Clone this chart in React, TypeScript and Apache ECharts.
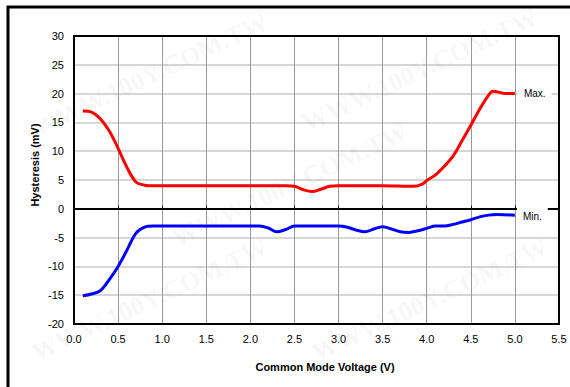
import React, { useEffect, useRef } from "react";
import * as echarts from "echarts";

const xTicks = [0, 0.5, 1, 1.5, 2, 2.5, 3, 3.5, 4, 4.5, 5, 5.5];
const yTicks = [-20, -15, -10, -5, 0, 5, 10, 15, 20, 25, 30];

const maxSeries: [number, number][] = [
  [0.1, 17], [0.2, 16.8], [0.3, 15.6], [0.4, 13.5], [0.5, 10.5], [0.6, 7.2], [0.7, 4.7],
  [0.8, 4.1], [0.9, 4.0], [1.0, 4.0], [1.5, 4.0], [2.0, 4.0], [2.4, 4.0], [2.5, 3.9],
  [2.6, 3.3], [2.7, 3.0], [2.8, 3.4], [2.9, 3.9], [3.0, 4.0], [3.5, 4.0], [3.85, 3.9],
  [3.95, 4.3], [4.0, 4.9], [4.1, 5.9], [4.2, 7.4], [4.3, 9.2], [4.4, 11.8], [4.5, 14.5],
  [4.6, 17.3], [4.7, 19.7], [4.75, 20.4], [4.8, 20.3], [4.9, 20.0], [5.0, 20.0],
];

const minSeries: [number, number][] = [
  [0.1, -15.1], [0.2, -14.8], [0.3, -14.2], [0.4, -12.3], [0.5, -10.0], [0.6, -7.2],
  [0.7, -4.3], [0.8, -3.2], [0.9, -3.0], [1.0, -3.0], [1.5, -3.0], [2.0, -3.0], [2.1, -3.0],
  [2.2, -3.3], [2.3, -4.0], [2.4, -3.6], [2.5, -3.0], [2.7, -3.0], [3.0, -3.0], [3.1, -3.2],
  [3.2, -3.7], [3.3, -4.0], [3.4, -3.5], [3.5, -3.1], [3.6, -3.5], [3.7, -4.0], [3.8, -4.1],
  [3.9, -3.8], [4.0, -3.4], [4.1, -3.0], [4.2, -3.0], [4.3, -2.7], [4.4, -2.3], [4.5, -1.9],
  [4.6, -1.4], [4.7, -1.1], [4.8, -1.0], [5.0, -1.1],
];

const seriesNames = ["Max.", "Min."];
const xName = "Common Mode Voltage (V)";
const yName = "Hysteresis (mV)";
const watermark = "WWW.100Y.COM.TW";

export default function App() {
  const ref = useRef<HTMLDivElement>(null);
  useEffect(() => {
    if (!ref.current) return;
    const chart = echarts.init(ref.current, undefined, { renderer: "svg" });
    const font = "Liberation Sans, Arial, sans-serif";
    const marks: any[] = [];
    const wmPos = [
      [150, 75], [420, 70], [290, 185], [150, 300], [430, 300],
    ];
    wmPos.forEach(([x, y]) => {
      marks.push({
        type: "text",
        x,
        y,
        rotation: (25 * Math.PI) / 180,
        silent: true,
        z: 100,
        style: {
          text: watermark,
          font: "bold 26px 'Liberation Serif', serif",
          fill: "rgba(0,0,0,0.045)",
          textAlign: "center",
          textVerticalAlign: "middle",
        },
      });
    });
    chart.setOption({
      animation: false,
      backgroundColor: "#fff",
      grid: {
        left: 74,
        top: 36,
        width: 485,
        height: 288,
        show: true,
        borderColor: "#000",
        borderWidth: 2,
        z: 3,
      },
      xAxis: [
        {
          type: "value",
          min: 0,
          max: 5.5,
          interval: 0.5,
          axisLine: { onZero: false, lineStyle: { color: "#000", width: 2 } },
          axisTick: { show: false },
          splitLine: { show: true, lineStyle: { color: "#999", width: 1 } },
          axisLabel: {
            color: "#000",
            fontFamily: font,
            fontSize: 11,
            margin: 9,
            formatter: (v: number) => v.toFixed(1),
          },
        },
        {
          type: "value",
          min: 0,
          max: 5.5,
          interval: 0.5,
          position: "bottom",
          axisLine: { onZero: true, lineStyle: { color: "#000", width: 2 } },
          axisTick: { show: true, inside: true, length: 3, lineStyle: { color: "#000", width: 1 } },
          splitLine: { show: false },
          axisLabel: { show: false },
        },
      ],
      yAxis: {
        type: "value",
        min: -20,
        max: 30,
        interval: 5,
        axisLine: { show: true, lineStyle: { color: "#000", width: 2 } },
        axisTick: { show: false },
        splitLine: { show: true, lineStyle: { color: "#c8c8c8", width: 1.5 } },
        axisLabel: { color: "#000", fontFamily: font, fontSize: 11, margin: 10 },
      },
      series: [
        {
          name: seriesNames[0],
          type: "line",
          data: maxSeries,
          smooth: 0.35,
          showSymbol: false,
          z: 5,
          lineStyle: { color: "#ff0000", width: 3 },
          endLabel: {
            show: true,
            formatter: seriesNames[0],
            color: "#000",
            fontFamily: font,
            fontSize: 10,
            backgroundColor: "#fff",
            padding: [3, 6, 3, 6],
            distance: 3,
          },
        },
        {
          name: seriesNames[1],
          type: "line",
          data: minSeries,
          smooth: 0.35,
          showSymbol: false,
          z: 5,
          lineStyle: { color: "#0000ff", width: 3 },
          endLabel: {
            show: true,
            formatter: seriesNames[1],
            color: "#000",
            fontFamily: font,
            fontSize: 10,
            backgroundColor: "#fff",
            padding: [7, 6, 4, 6],
            distance: 2,
            offset: [0, 1],
          },
        },
      ],
      graphic: [
        {
          type: "rect",
          shape: { x: 8, y: 7, width: 600, height: 420 },
          silent: true,
          z: 50,
          style: { fill: "none", stroke: "#000", lineWidth: 3 },
        },
        {
          type: "text",
          x: 35,
          y: 165,
          rotation: Math.PI / 2,
          z: 50,
          style: {
            text: yName,
            font: `bold 11px ${font}`,
            fill: "#000",
            textAlign: "center",
            textVerticalAlign: "middle",
          },
        },
        {
          type: "text",
          x: 325,
          y: 367,
          z: 50,
          style: {
            text: xName,
            font: `bold 11px ${font}`,
            fill: "#000",
            textAlign: "center",
            textVerticalAlign: "middle",
          },
        },
        ...marks,
      ],
    });
    return () => chart.dispose();
  }, []);
  return (
    <div
      ref={ref}
      style={{ position: "absolute", left: 0, top: 0, width: 570, height: 387, background: "#fff" }}
    />
  );
}
